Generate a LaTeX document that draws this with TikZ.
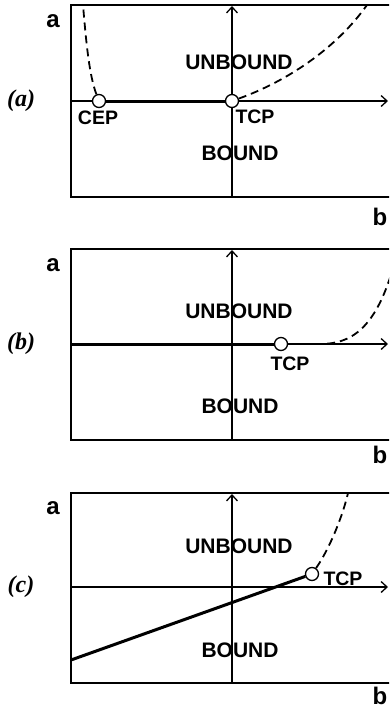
\documentclass[tikz,border=0pt]{standalone}
\usepackage{fontspec}
\newfontfamily\arialbf{Liberation Sans}
\newfontfamily\timesbf{Liberation Serif}
\usetikzlibrary{arrows.meta}

\begin{document}
\begin{tikzpicture}[x=1pt,y=-1pt,
  region/.style={font=\arialbf\bfseries\fontsize{21}{21}\selectfont, inner sep=0pt},
  ptlabel/.style={font=\arialbf\bfseries\fontsize{19.5}{20}\selectfont, inner sep=0pt},
  axlabel/.style={font=\arialbf\bfseries\fontsize{24}{24}\selectfont, inner sep=0pt},
  panel/.style={font=\timesbf\bfseries\itshape\fontsize{24}{24}\selectfont, inner sep=0pt},
  frame/.style={line width=2pt},
  axis/.style={line width=1.3pt, -{Straight Barb[length=6pt,width=11pt,line width=1.3pt]}},
  coex/.style={line width=3pt},
  crit/.style={line width=1.8pt, dash pattern=on 8pt off 5pt},
  crpt/.style={circle, draw, line width=1.3pt, fill=white, minimum size=13pt, inner sep=0pt}]
\useasboundingbox (0,0) rectangle (389,710);
\clip (0,0) rectangle (389,710);
% frames and axes
\foreach \top/\bot/\mid in {5/197/101, 249/440/344, 493/683/587}{
  \draw[frame] (71,\top) rectangle (430,\bot);
  \draw[axis] (71,\mid) -- (388,\mid);
  \draw[axis] (232,\bot) -- (232,\top+1);
}
% (a)
\node[crpt] (cep) at (99,101) {};
\node[crpt] (tcpA) at (232,101) {};
\coordinate (cepTop) at (83,5);
\coordinate (tcpAtop) at (367,5);
\draw[coex] (cep) -- (tcpA);
\draw[crit] (cep) .. controls (89,75) and (86,40) .. (cepTop);
\draw[crit] (tcpA) .. controls (285,82) and (335,50) .. (tcpAtop);
\node[panel] (labA) at (21,101) {(a)};
\node[axlabel] (aA) at (53,21) {a};
\node[axlabel] (bA) at (380,217) {b};
\node[region] (unbA) at (239,62) {UNBOUND};
\node[region] (bndA) at (240,153) {BOUND};
\node[ptlabel] (cepLab) at (98,118) {CEP};
\node[ptlabel] (tcpAlab) at (255,117) {TCP};
% (b)
\coordinate (leftB) at (71,344);
\node[crpt] (tcpB) at (281,344) {};
\coordinate (flatB) at (320,344);
\coordinate (tcpBtop) at (393,268);
\draw[coex] (leftB) -- (tcpB);
\draw[crit] (tcpB) -- (flatB) .. controls (350,344) and (375,330) .. (tcpBtop);
\node[panel] (labB) at (21,344) {(b)};
\node[axlabel] (aB) at (53,265) {a};
\node[axlabel] (bB) at (380,455) {b};
\node[region] (unbB) at (239,311) {UNBOUND};
\node[region] (bndB) at (240,406) {BOUND};
\node[ptlabel] (tcpBlab) at (290,364) {TCP};
% (c)
\coordinate (leftC) at (71,660);
\node[crpt] (tcpC) at (312,574) {};
\coordinate (tcpCtop) at (348,493);
\draw[coex] (leftC) -- (tcpC);
\draw[crit] (tcpC) .. controls (330,548) and (343,515) .. (tcpCtop);
\node[panel] (labC) at (21,587) {(c)};
\node[axlabel] (aC) at (53,508) {a};
\node[axlabel] (bC) at (380,696) {b};
\node[region] (unbC) at (239,546) {UNBOUND};
\node[region] (bndC) at (240,650) {BOUND};
\node[ptlabel] (tcpClab) at (343,579) {TCP};
\end{tikzpicture}
\end{document}
